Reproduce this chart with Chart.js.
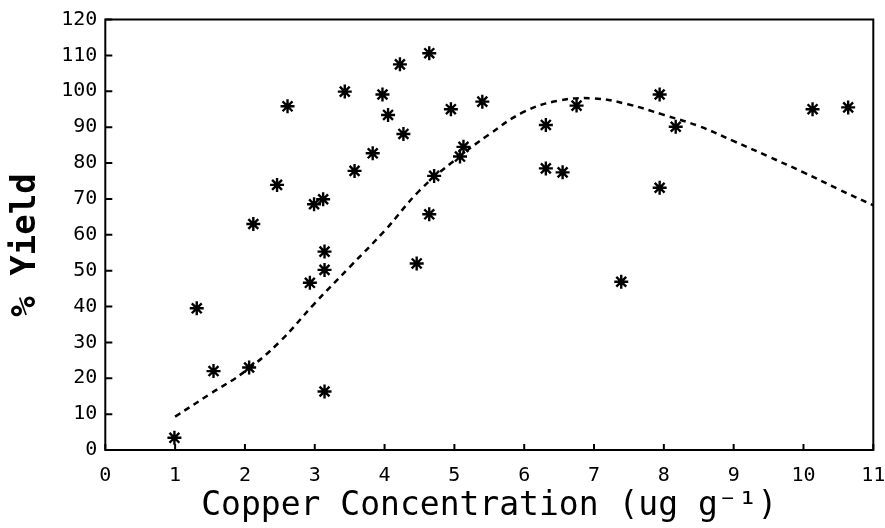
<!DOCTYPE html>
<html>
<head>
<meta charset="utf-8">
<script src="https://cdn.jsdelivr.net/npm/chart.js@4/dist/chart.umd.min.js"></script>
<style>
  html, body { margin: 0; padding: 0; background: #fff; }
  #wrap { width: 885px; height: 528px; position: relative; }
</style>
</head>
<body>
<div id="wrap"><canvas id="chart"></canvas></div>
<script>
// Measured copper concentration vs. relative yield
const copperX = [0.99, 1.31, 1.55, 2.06, 2.12, 2.46, 2.61, 2.93, 2.99, 3.12,
                 3.14, 3.14, 3.14, 3.43, 3.57, 3.83, 3.97, 4.05, 4.22, 4.27,
                 4.46, 4.64, 4.64, 4.71, 4.95, 5.08, 5.13, 5.40, 6.31, 6.31,
                 6.55, 6.75, 7.39, 7.94, 7.94, 8.17, 10.13, 10.64];
const yieldPct = [3.4, 39.5, 22.0, 23.0, 63.0, 73.9, 95.8, 46.6, 68.5, 69.9,
                  55.3, 50.2, 16.3, 99.9, 77.8, 82.7, 99.1, 93.4, 107.5, 88.1,
                  52.0, 110.6, 65.7, 76.4, 95.0, 81.8, 84.5, 97.1, 90.6, 78.5,
                  77.4, 96.0, 46.9, 99.1, 73.1, 90.1, 95.0, 95.5];

// Fitted response curve
const fitX = [1.0, 1.5, 2.0, 2.5, 3.0, 3.5, 4.0, 4.5, 5.0, 5.5, 6.0,
              6.5, 7.0, 7.5, 8.0, 8.5, 9.0, 9.5, 10.0, 10.5, 11.0];
const fitY = [9.3, 15.6, 21.9, 30.2, 40.9, 51.0, 61.1, 72.3, 80.7, 88.0, 94.3,
              97.4, 98.0, 96.3, 93.4, 90.3, 86.1, 81.8, 77.4, 72.7, 68.2];

const xTickValues = [0, 1, 2, 3, 4, 5, 6, 7, 8, 9, 10, 11];
const yTickValues = [0, 10, 20, 30, 40, 50, 60, 70, 80, 90, 100, 110, 120];

const FONT = "'DejaVu Sans Mono', 'Liberation Mono', monospace";

// box around the plot plus short inward tick marks
const framePlugin = {
  id: 'frame',
  afterDraw(chart) {
    const { ctx, chartArea: a, scales } = chart;
    ctx.save();
    ctx.strokeStyle = '#000';
    ctx.lineWidth = 2;
    ctx.strokeRect(a.left, a.top, a.right - a.left, a.bottom - a.top);
    ctx.beginPath();
    xTickValues.forEach(v => {
      const px = scales.x.getPixelForValue(v);
      ctx.moveTo(px, a.bottom);
      ctx.lineTo(px, a.bottom - 6);
    });
    yTickValues.forEach(v => {
      const py = scales.y.getPixelForValue(v);
      ctx.moveTo(a.left, py);
      ctx.lineTo(a.left + 7, py);
    });
    ctx.stroke();
    ctx.restore();
  }
};

new Chart(document.getElementById('chart'), {
  type: 'scatter',
  data: {
    datasets: [
      {
        type: 'line',
        data: fitX.map((x, i) => ({ x, y: fitY[i] })),
        borderColor: '#000',
        borderWidth: 2.5,
        borderDash: [6, 5],
        pointRadius: 0,
        fill: false,
        tension: 0.4
      },
      {
        data: copperX.map((x, i) => ({ x, y: yieldPct[i] })),
        pointStyle: 'star',
        pointRadius: 7,
        pointBorderWidth: 2.4,
        borderColor: '#000',
        backgroundColor: '#000'
      }
    ]
  },
  options: {
    responsive: true,
    maintainAspectRatio: false,
    animation: false,
    layout: { padding: { top: 19.5, right: 11.7, left: 0, bottom: 0 } },
    plugins: { legend: { display: false }, tooltip: { enabled: false } },
    scales: {
      x: {
        type: 'linear',
        min: 0,
        max: 11,
        afterBuildTicks: s => { s.ticks = xTickValues.map(value => ({ value })); },
        afterFit: s => { s.height = 78; s.paddingLeft = 0; s.paddingRight = 0; },
        grid: { display: false, drawTicks: false },
        border: { display: false },
        ticks: { color: '#000', padding: 14, font: { family: FONT, size: 20 } },
        title: {
          display: true,
          text: 'Copper Concentration (ug g\u207B\u00B9)',
          color: '#000',
          padding: { top: 0, bottom: 2 },
          font: { family: FONT, size: 33 }
        }
      },
      y: {
        min: 0,
        max: 120,
        afterBuildTicks: s => { s.ticks = yTickValues.map(value => ({ value })); },
        afterFit: s => { s.width = 105.3; s.paddingTop = 0; s.paddingBottom = 0; },
        grid: { display: false, drawTicks: false },
        border: { display: false },
        ticks: { color: '#000', padding: 8, font: { family: FONT, size: 20 } },
        title: {
          display: true,
          text: '% Yield ',
          color: '#000',
          padding: { top: 6, bottom: 0 },
          font: { family: FONT, size: 34, weight: 'bold' }
        }
      }
    }
  },
  plugins: [framePlugin]
});
</script>
</body>
</html>
